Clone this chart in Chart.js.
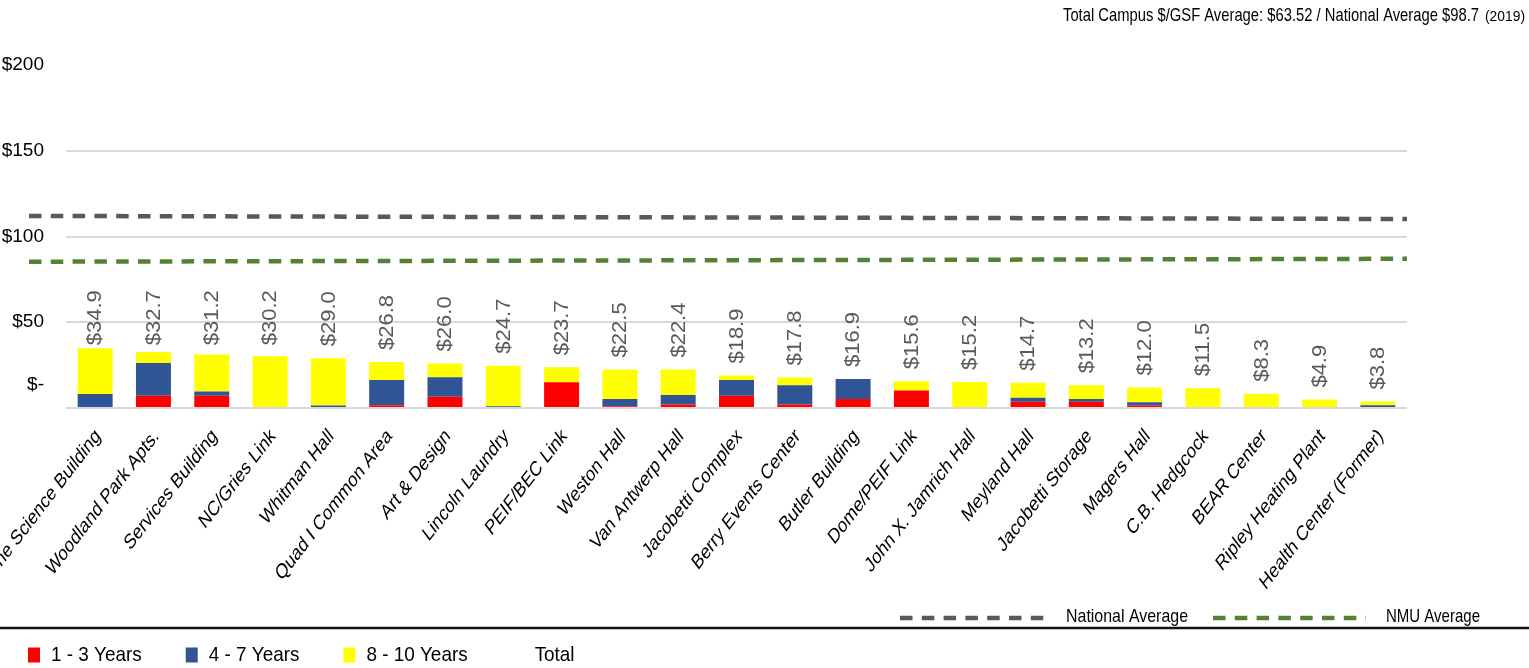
<!DOCTYPE html>
<html>
<head>
<meta charset="utf-8">
<script src="https://cdn.jsdelivr.net/npm/chart.js@4"></script>
<style>
  html, body { margin: 0; padding: 0; background: #fff; }
  #wrap { position: relative; width: 1529px; height: 668px; overflow: hidden; }
</style>
</head>
<body>
<div id="wrap"><canvas id="chart" width="1529" height="668"></canvas></div>
<script>
// Buildings, left to right (first label is cut off in the source)
const buildings = [
    'ne Science Building', 'Woodland Park Apts.', 'Services Building', 'NC/Gries Link',
    'Whitman Hall', 'Quad I Common Area', 'Art & Design', 'Lincoln Laundry',
    'PEIF/BEC Link', 'Weston Hall', 'Van Antwerp Hall', 'Jacobetti Complex',
    'Berry Events Center', 'Butler Building', 'Dome/PEIF Link', 'John X. Jamrich Hall',
    'Meyland Hall', 'Jacobetti Storage', 'Magers Hall', 'C.B. Hedgcock',
    'BEAR Center', 'Ripley Heating Plant', 'Health Center (Former)'
];

// $/GSF by age group
const years1to3  = [0, 7.2, 7.1, 0, 0, 1.6, 6.5, 0, 15.0, 1.0, 2.1, 7.1, 2.1, 5.3, 10.2, 0, 3.6, 3.6, 1.4, 0, 0, 0, 0];
const years4to7  = [8.2, 19.1, 2.5, 0, 1.4, 14.7, 11.5, 1.0, 0, 4.3, 5.5, 9.2, 11.1, 11.6, 0, 0, 2.4, 1.7, 2.0, 0, 0, 0, 1.6];
const years8to10 = [26.7, 6.4, 21.6, 30.2, 27.6, 10.5, 8.0, 23.7, 8.7, 17.2, 14.8, 2.6, 4.6, 0, 5.4, 15.2, 8.7, 7.9, 8.6, 11.5, 8.3, 4.9, 2.2];
const totals     = [34.9, 32.7, 31.2, 30.2, 29.0, 26.8, 26.0, 24.7, 23.7, 22.5, 22.4, 18.9, 17.8, 16.9, 15.6, 15.2, 14.7, 13.2, 12.0, 11.5, 8.3, 4.9, 3.8];

const seriesNames = ['1 - 3 Years', '4 - 7 Years', '8 - 10 Years', 'Total'];
const yTicks = [0, 50, 100, 150, 200];

// dashed reference lines, value at left end and right end
const nationalLine = [112.0, 110.2];
const nmuLine = [85.3, 87.0];
const refNames = ['National Average', 'NMU Average'];

const titleText = 'Total Campus $/GSF Average: $63.52 / National Average $98.7';
const titleYear = '(2019)';

const FONT = '"Liberation Sans", Arial, sans-serif';
const GRAY_DASH = '#595959';
const GREEN_DASH = '#548235';

// draw text squeezed horizontally to a given width
function fitText(ctx, text, x, y, size, width, align, baseline) {
    ctx.save();
    ctx.font = size + 'px ' + FONT;
    const w = ctx.measureText(text).width;
    const sx = width ? width / w : 1;
    ctx.translate(x, y);
    ctx.scale(sx, 1);
    ctx.textAlign = align || 'left';
    ctx.textBaseline = baseline || 'alphabetic';
    ctx.fillText(text, 0, 0);
    ctx.restore();
    return w * sx;
}

function dashLine(ctx, x1, y1, x2, y2, color) {
    ctx.save();
    ctx.strokeStyle = color;
    ctx.lineWidth = 4.5;
    ctx.setLineDash([12.5, 9.3]);
    ctx.beginPath();
    ctx.moveTo(x1, y1);
    ctx.lineTo(x2, y2);
    ctx.stroke();
    ctx.restore();
}

const overlay = {
    id: 'overlay',
    afterDatasetsDraw(chart) {
        const ctx = chart.ctx;
        const area = chart.chartArea;
        const x = chart.scales.x;
        const y = chart.scales.y;

        // average lines
        dashLine(ctx, area.left - 37, y.getPixelForValue(nationalLine[0]), area.right, y.getPixelForValue(nationalLine[1]), GRAY_DASH);
        dashLine(ctx, area.left - 37, y.getPixelForValue(nmuLine[0]), area.right, y.getPixelForValue(nmuLine[1]), GREEN_DASH);

        // total labels, vertical, above each stack
        const meta = chart.getDatasetMeta(3);
        const ceil = y.getPixelForValue(68.7);
        ctx.save();
        ctx.font = '22px ' + FONT;
        ctx.fillStyle = '#595959';
        meta.data.forEach((pt, i) => {
            const txt = '$' + totals[i].toFixed(1);
            const len = ctx.measureText(txt).width;
            let bottom = pt.y - 12;
            if (bottom - len < ceil) bottom = ceil + len;
            ctx.save();
            ctx.translate(pt.x + 1, bottom);
            ctx.scale(0.88, 1);
            ctx.rotate(-Math.PI / 2);
            ctx.textAlign = 'left';
            ctx.textBaseline = 'middle';
            ctx.fillText(txt, 0, 0);
            ctx.restore();
        });
        ctx.restore();

        // category labels, 45 degrees then squeezed like the source
        ctx.save();
        ctx.font = '21px ' + FONT;
        ctx.fillStyle = '#000';
        buildings.forEach((name, i) => {
            ctx.save();
            ctx.translate(x.getPixelForValue(i) + 3, area.bottom + 25);
            ctx.scale(0.77, 1);
            ctx.rotate(-Math.PI / 4);
            ctx.textAlign = 'right';
            ctx.textBaseline = 'middle';
            ctx.fillText(name, 0, 0);
            ctx.restore();
        });
        ctx.restore();
    },
    afterDraw(chart) {
        const ctx = chart.ctx;
        ctx.save();
        ctx.fillStyle = '#000';

        // title top right
        fitText(ctx, titleText, 1063, 21, 18.5, 416);
        fitText(ctx, titleYear, 1485, 21, 14, 40);

        // legend for the dashed lines
        dashLine(ctx, 900, 618, 1052, 618, GRAY_DASH);
        fitText(ctx, refNames[0], 1066, 622, 18.5, 122);
        dashLine(ctx, 1213, 618, 1366, 618, GREEN_DASH);
        fitText(ctx, refNames[1], 1386, 622, 18.5, 94);

        // black rule
        ctx.strokeStyle = '#111';
        ctx.lineWidth = 2.5;
        ctx.beginPath();
        ctx.moveTo(0, 628);
        ctx.lineTo(chart.width, 628);
        ctx.stroke();

        // series legend
        let cx = 28;
        const cy = 655;
        chart.data.datasets.forEach(ds => {
            if (ds.backgroundColor !== 'transparent') {
                ctx.fillStyle = ds.backgroundColor;
                ctx.fillRect(cx, cy - 7.5, 12, 15);
            }
            cx += 23;
            ctx.fillStyle = '#000';
            ctx.font = '21px ' + FONT;
            const w = ctx.measureText(ds.label).width * 0.9;
            fitText(ctx, ds.label, cx, cy, 21, w, 'left', 'middle');
            cx += w + 44;
        });
        ctx.restore();
    }
};

new Chart(document.getElementById('chart'), {
    type: 'bar',
    data: {
        labels: buildings,
        datasets: [
            { label: seriesNames[0], data: years1to3, backgroundColor: '#FF0000', stack: 'years' },
            { label: seriesNames[1], data: years4to7, backgroundColor: '#2F5597', stack: 'years' },
            { label: seriesNames[2], data: years8to10, backgroundColor: '#FFFF00', stack: 'years' },
            {
                type: 'line', label: seriesNames[3], data: totals, stack: 'total',
                showLine: false, pointRadius: 0, pointHoverRadius: 0,
                backgroundColor: 'transparent', borderColor: 'transparent'
            }
        ]
    },
    options: {
        responsive: false,
        animation: false,
        layout: { padding: { top: 65, right: 122, left: 0, bottom: 0 } },
        datasets: { bar: { barPercentage: 0.6, categoryPercentage: 1 } },
        plugins: { legend: { display: false }, tooltip: { enabled: false } },
        scales: {
            x: {
                stacked: true,
                grid: { display: false },
                border: { display: false },
                ticks: { display: false },
                afterFit: s => { s.height = 260; s.paddingLeft = 0; s.paddingRight = 0; }
            },
            y: {
                stacked: true,
                min: 0,
                max: 200,
                afterBuildTicks: s => { s.ticks = yTicks.map(v => ({ value: v })); },
                ticks: {
                    padding: 22,
                    color: '#000',
                    font: { family: FONT, size: 19 },
                    // the "$-" sits higher than the zero line in the source
                    callback: v => v === 0 ? ['$-', '', ''] : '$' + v
                },
                grid: {
                    drawTicks: false,
                    lineWidth: 2,
                    color: c => c.tick && c.tick.value === 200 ? 'transparent' : '#d9d9d9'
                },
                border: { display: false },
                afterFit: s => { s.width = 66; }
            }
        }
    },
    plugins: [overlay]
});
</script>
</body>
</html>
